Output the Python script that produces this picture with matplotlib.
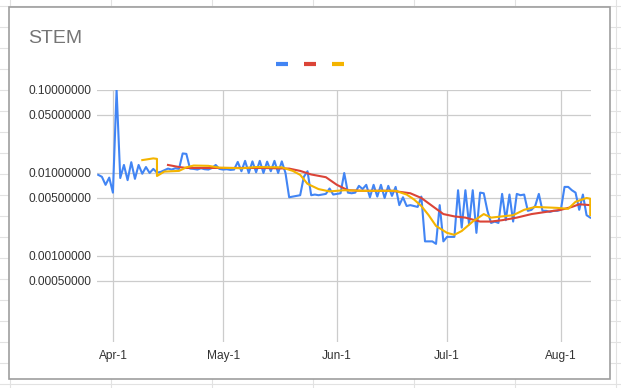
import numpy as np
import pandas as pd
import matplotlib
matplotlib.use("Agg")
import matplotlib.pyplot as plt
import matplotlib.dates as mdates
from matplotlib.lines import Line2D
from matplotlib.patches import Rectangle

plt.rcParams['font.family'] = ['Liberation Sans', 'DejaVu Sans']

title = "STEM"

# daily series (blue), starting Mar 28
blue_start = "2020-03-28"
blue_values = [
    0.0095, 0.0090, 0.0072, 0.0088, 0.0058, 0.1000, 0.0087, 0.0125, 0.0082, 0.0135,
    0.0085, 0.0125, 0.0098, 0.0118, 0.0100, 0.0112, 0.0101, 0.0103, 0.0108, 0.0113,
    0.0110, 0.0114, 0.0112, 0.0172, 0.0170, 0.0113, 0.0112, 0.0110, 0.0114, 0.0111,
    0.0110, 0.0115, 0.0125, 0.0112, 0.0110, 0.0111, 0.0109, 0.0110, 0.0136, 0.0105,
    0.0140, 0.0100, 0.0138, 0.0102, 0.0140, 0.0100, 0.0137, 0.0105, 0.0140, 0.0100,
    0.0138, 0.0100, 0.0051, 0.0052, 0.0053, 0.0054, 0.0090, 0.0105, 0.0054, 0.0055,
    0.0054, 0.0055, 0.0056, 0.0065, 0.0055, 0.0056, 0.0057, 0.0100, 0.0058, 0.0057,
    0.0058, 0.0070, 0.0064, 0.0072, 0.0051, 0.0072, 0.0052, 0.0072, 0.0050, 0.0070,
    0.0053, 0.0068, 0.0041, 0.0051, 0.0040, 0.0041, 0.0040, 0.0039, 0.0052, 0.0015,
    0.0015, 0.0015, 0.0014, 0.0041, 0.0015, 0.0017, 0.0017, 0.0017, 0.0062, 0.0022,
    0.0062, 0.0024, 0.0062, 0.0019, 0.0058, 0.0057, 0.0035, 0.0025, 0.0026, 0.0025,
    0.0056, 0.0027, 0.0055, 0.0026, 0.0056, 0.0054, 0.0055, 0.0035, 0.0036, 0.0040,
    0.0056, 0.0035, 0.0035, 0.0034, 0.0035, 0.0035, 0.0036, 0.0068, 0.0068, 0.0062,
    0.0058, 0.0036, 0.0055, 0.0031, 0.0029,
]

# slow average (red)
red_dates = [
    "2020-04-16", "2020-04-19", "2020-04-21", "2020-05-02", "2020-05-12", "2020-05-19",
    "2020-05-22", "2020-05-25", "2020-05-29", "2020-06-01", "2020-06-04", "2020-06-08",
    "2020-06-16", "2020-06-21", "2020-06-24", "2020-06-27", "2020-06-30", "2020-07-03",
    "2020-07-06", "2020-07-10", "2020-07-13", "2020-07-16", "2020-07-20", "2020-07-24",
    "2020-07-28", "2020-08-01", "2020-08-04", "2020-08-06", "2020-08-09",
]
red_values = [
    0.0125, 0.0118, 0.0115, 0.0115, 0.0115, 0.0113,
    0.0106, 0.0096, 0.0089, 0.0072, 0.0062, 0.0061,
    0.0061, 0.0057, 0.0050, 0.0040, 0.0032, 0.0030,
    0.0029, 0.0026, 0.0026, 0.0027, 0.0029, 0.0032,
    0.0034, 0.0036, 0.0039, 0.0042, 0.0041,
]

# fast average (yellow)
yellow_dates = [
    "2020-04-09", "2020-04-12", "2020-04-13", "2020-04-13", "2020-04-15", "2020-04-19",
    "2020-04-21", "2020-04-23", "2020-04-27", "2020-04-30", "2020-05-06", "2020-05-10",
    "2020-05-17", "2020-05-20", "2020-05-22", "2020-05-24", "2020-05-27", "2020-05-30",
    "2020-06-03", "2020-06-08", "2020-06-17", "2020-06-20", "2020-06-22", "2020-06-24",
    "2020-06-26", "2020-06-28", "2020-07-01", "2020-07-03", "2020-07-05", "2020-07-08",
    "2020-07-11", "2020-07-13", "2020-07-16", "2020-07-19", "2020-07-22", "2020-07-25",
    "2020-07-31", "2020-08-03", "2020-08-05", "2020-08-08", "2020-08-09", "2020-08-09",
]
yellow_values = [
    0.0143, 0.0150, 0.0148, 0.0092, 0.0104, 0.0106,
    0.0117, 0.0123, 0.0122, 0.0116, 0.0114, 0.0118,
    0.0117, 0.0106, 0.0095, 0.0074, 0.0064, 0.0060,
    0.0062, 0.0061, 0.0061, 0.0055, 0.0048, 0.0040,
    0.0031, 0.0023, 0.0019, 0.0018, 0.0020, 0.0026,
    0.0032, 0.0029, 0.0030, 0.0031, 0.0036, 0.0039,
    0.0038, 0.0037, 0.0045, 0.0050, 0.0049, 0.0031,
]

y_ticks = [0.1, 0.05, 0.01, 0.005, 0.001, 0.0005]
x_ticks = ["2020-04-01", "2020-05-01", "2020-06-01", "2020-07-01", "2020-08-01"]

colors = ["#4285f4", "#db4437", "#f4b400"]

W, H = 621, 388
fig = plt.figure(figsize=(W / 100, H / 100), dpi=100)

# spreadsheet cells behind the chart
bg = fig.add_axes([0, 0, 1, 1])
bg.set_xlim(0, W)
bg.set_ylim(H, 0)
bg.axis("off")
for yy in range(6, H, 21):
    bg.axhline(yy, color="#e2e2e2", lw=0.8, zorder=1)
for xx in range(10, W, 101):
    bg.axvline(xx, color="#e2e2e2", lw=0.8, zorder=1)
bg.add_patch(Rectangle((9, 7), 601, 372, facecolor="white", edgecolor="#9e9e9e",
                       lw=1.2, zorder=5))

ax = fig.add_axes([97 / W, 1 - 342 / H, 494 / W, 252 / H])
ax.patch.set_alpha(0)

blue_dates = pd.date_range(blue_start, periods=len(blue_values), freq="D")
ax.plot(blue_dates, blue_values, color=colors[0], lw=1.5, zorder=3)
ax.plot(pd.to_datetime(red_dates), red_values, color=colors[1], lw=1.5, zorder=4)
ax.plot(pd.to_datetime(yellow_dates), yellow_values, color=colors[2], lw=1.5, zorder=5)

ax.set_yscale("log")
ax.set_ylim(9.2e-5, 0.1)
ax.set_yticks(y_ticks)
ax.set_yticklabels(["%.8f" % v for v in y_ticks])
ax.yaxis.set_minor_locator(matplotlib.ticker.NullLocator())

ax.set_xlim(pd.Timestamp("2020-03-27 16:00"), pd.Timestamp("2020-08-09 05:00"))
ax.set_xticks(pd.to_datetime(x_ticks))
ax.xaxis.set_major_formatter(mdates.DateFormatter("%b-%-d"))

ax.grid(True, color="#cccccc", lw=0.9)
ax.set_axisbelow(True)
for s in ax.spines.values():
    s.set_visible(False)
ax.tick_params(length=0, labelsize=8.6, labelcolor="#333333")
ax.tick_params(axis="y", pad=4)
ax.tick_params(axis="x", pad=6)

fig.text(28.5 / W, 1 - 43 / H, title, fontsize=14, color="#757575", va="baseline")

handles = [Line2D([], [], color=c, lw=3, solid_capstyle="butt") for c in colors]
fig.legend(handles, ["", "", ""], ncol=3, loc="center", bbox_to_anchor=(310 / W, 1 - 65 / H),
           frameon=False, handlelength=0.86, handletextpad=0, columnspacing=1.15, fontsize=10)

fig.savefig("out.png", dpi=100)
